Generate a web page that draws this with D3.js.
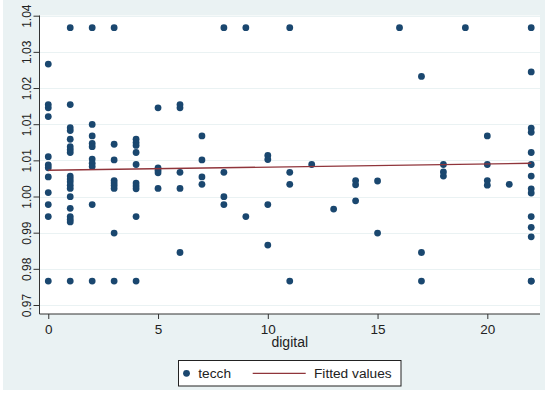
<!DOCTYPE html>
<html>
<head>
<meta charset="utf-8">
<script src="https://cdn.jsdelivr.net/npm/d3@7"></script>
<style>
  body { margin: 0; background: #ffffff; }
  svg { display: block; font-family: "Liberation Sans", Arial, sans-serif; }
</style>
</head>
<body>
<svg id="chart"></svg>
<script>
const digital = [
    0,0,0,0,0,0,0,0,0,0,0,0,
    1,1,1,1,1,1,1,1,1,1,1,1,1,1,1,1,1,1,1,
    2,2,2,2,2,2,2,2,2,2,
    3,3,3,3,3,3,3,3,3,
    4,4,4,4,4,4,4,4,4,4,
    5,5,5,5,5,
    6,6,6,6,6,
    7,7,7,7,
    8,8,8,8,
    9,9,
    10,10,10,10,
    11,11,11,11,
    12, 13,
    14,14,14,
    15,15,
    16,
    17,17,17,
    18,18,18,
    19,
    20,20,20,20,
    21,
    22,22,22,22,22,22,22,22,22,22,22,22,22,22
];
const tecch = [
    1.0283, 1.0185, 1.0177, 1.0156, 1.0059, 1.0039, 1.0032, 1.0010, 0.9972, 0.9943, 0.9914, 0.9758,
    1.0371, 1.0185, 1.0129, 1.0122, 1.0101, 1.0083, 1.0076, 1.0069, 1.0012, 1.0005, 0.9998, 0.9990, 0.9982, 0.9962, 0.9934, 0.9914, 0.9907, 0.9901, 0.9758,
    1.0371, 1.0137, 1.0109, 1.0091, 1.0083, 1.0053, 1.0043, 1.0035, 0.9943, 0.9758,
    1.0371, 1.0089, 1.0051, 1.0001, 0.9995, 0.9989, 0.9982, 0.9874, 0.9758,
    1.0101, 1.0093, 1.0086, 1.0069, 1.0040, 0.9995, 0.9988, 0.9981, 0.9914, 0.9758,
    1.0177, 1.0032, 1.0026, 1.0020, 0.9982,
    1.0185, 1.0177, 1.0021, 0.9982, 0.9827,
    1.0109, 1.0051, 1.0010, 0.9992,
    1.0371, 1.0021, 0.9962, 0.9943,
    1.0371, 0.9914,
    1.0062, 1.0052, 0.9943, 0.9845,
    1.0371, 1.0021, 0.9992, 0.9758,
    1.0040, 0.9932,
    1.0001, 0.9991, 0.9952,
    1.0000, 0.9874,
    1.0371,
    1.0253, 0.9827, 0.9758,
    1.0040, 1.0022, 1.0012,
    1.0371,
    1.0109, 1.0040, 1.0001, 0.9990,
    0.9992,
    1.0371, 1.0264, 1.0128, 1.0118, 1.0069, 1.0040, 1.0012, 0.9981, 0.9971, 0.9914, 0.9888, 0.9865, 0.9758, 0.9758
];

// Fitted values (linear fit) at the two ends of the x range
const fitX = [0, 22];
const fitY = [1.0026, 1.0043];

// Axis ticks
const xTicks = [0, 5, 10, 15, 20];
const yTicks = [0, 1, 2, 3, 4, 5, 6, 7, 8].map(i => 0.97 + i * 0.00875);
const yTickLabels = ["0.97", "0.98", "0.99", "1.00", "1.01", "1.01", "1.02", "1.03", "1.04"];

const legendItems = ["tecch", "Fitted values"];

const width = 550;
const height = 394;
const plot = { left: 39.5, right: 540, top: 15.5, bottom: 314 };

const dotColor = "#1a476f";
const fitColor = "#90353b";
const outerBg = "#eaf2f3";

const svg = d3.select("#chart")
    .attr("width", width)
    .attr("height", height);

// Graph region background
svg.append("rect")
    .attr("x", 3).attr("y", 0)
    .attr("width", 542).attr("height", 390)
    .attr("fill", outerBg);

// Plot region
svg.append("rect")
    .attr("x", plot.left).attr("y", plot.top)
    .attr("width", plot.right - plot.left)
    .attr("height", plot.bottom - plot.top)
    .attr("fill", "#ffffff");

const xScale = d3.scaleLinear()
    .domain([-0.4, 22.4])
    .range([plot.left, plot.right]);

const yScale = d3.scaleLinear()
    .domain([0.97, 1.04])
    .range([305, 15.7]);

// Grid lines
svg.append("g")
    .selectAll("line")
    .data(yTicks)
    .join("line")
    .attr("x1", plot.left)
    .attr("x2", plot.right)
    .attr("y1", d => Math.round(yScale(d)) + 0.5)
    .attr("y2", d => Math.round(yScale(d)) + 0.5)
    .attr("stroke", outerBg)
    .attr("stroke-width", 1.2);

// Y axis
const yAxis = d3.axisLeft(yScale)
    .tickValues(yTicks)
    .tickSize(6)
    .tickPadding(4)
    .tickFormat((d, i) => yTickLabels[i]);

const yAxisGroup = svg.append("g")
    .attr("transform", `translate(${plot.left},0)`)
    .call(yAxis);

yAxisGroup.select(".domain")
    .attr("d", `M0,${plot.top}V${plot.bottom}`)
    .attr("stroke", "#333");
yAxisGroup.selectAll(".tick line").attr("stroke", "#333");
yAxisGroup.selectAll(".tick text")
    .attr("font-size", 12)
    .attr("fill", "#222")
    .attr("x", 0).attr("dy", null)
    .attr("text-anchor", "middle")
    .attr("transform", "translate(-13,0) rotate(-90)")
    .attr("y", 4);

// X axis
const xAxis = d3.axisBottom(xScale)
    .tickValues(xTicks)
    .tickSize(5)
    .tickPadding(5);

const xAxisGroup = svg.append("g")
    .attr("transform", `translate(0,${plot.bottom})`)
    .call(xAxis);

xAxisGroup.select(".domain")
    .attr("d", `M${plot.left},0H${plot.right}`)
    .attr("stroke", "#333");
xAxisGroup.selectAll(".tick line").attr("stroke", "#333");
xAxisGroup.selectAll(".tick text")
    .attr("font-size", 13.5)
    .attr("fill", "#222");

// X axis title
svg.append("text")
    .attr("x", (plot.left + plot.right) / 2)
    .attr("y", 347)
    .attr("text-anchor", "middle")
    .attr("font-size", 14)
    .attr("fill", "#222")
    .text("digital");

// Scatter points
svg.append("g")
    .selectAll("circle")
    .data(digital.map((d, i) => ({ x: d, y: tecch[i] })))
    .join("circle")
    .attr("cx", d => xScale(d.x))
    .attr("cy", d => yScale(d.y))
    .attr("r", 3.4)
    .attr("fill", dotColor);

// Fitted line
const line = d3.line()
    .x(d => xScale(d[0]))
    .y(d => yScale(d[1]));

svg.append("path")
    .datum(fitX.map((d, i) => [d, fitY[i]]))
    .attr("d", line)
    .attr("fill", "none")
    .attr("stroke", fitColor)
    .attr("stroke-width", 1.3);

// Legend
const legend = svg.append("g");

legend.append("rect")
    .attr("x", 178.5).attr("y", 360.5)
    .attr("width", 222.5).attr("height", 25.5)
    .attr("fill", "#ffffff")
    .attr("stroke", "#222")
    .attr("stroke-width", 1);

legend.append("circle")
    .attr("cx", 186.5).attr("cy", 373.3)
    .attr("r", 3.4)
    .attr("fill", dotColor);

legend.append("text")
    .attr("x", 198.3).attr("y", 378)
    .attr("font-size", 13.7)
    .attr("fill", "#222")
    .text(legendItems[0]);

legend.append("line")
    .attr("x1", 252.7).attr("x2", 305.7)
    .attr("y1", 373.3).attr("y2", 373.3)
    .attr("stroke", fitColor)
    .attr("stroke-width", 1.3);

legend.append("text")
    .attr("x", 314).attr("y", 378)
    .attr("font-size", 13.7)
    .attr("fill", "#222")
    .text(legendItems[1]);
</script>
</body>
</html>
